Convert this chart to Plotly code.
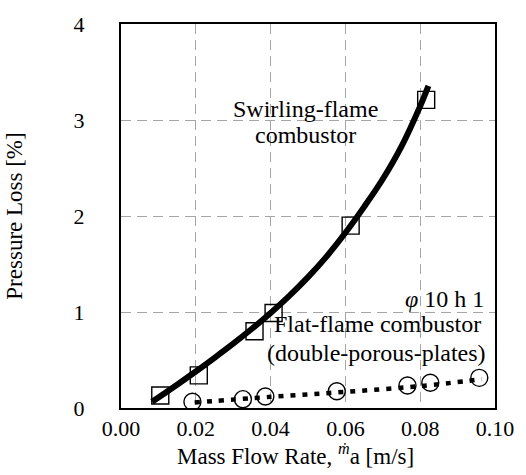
import plotly.graph_objects as go

swirl_x = [0.0105, 0.0208, 0.0357, 0.0408, 0.0614, 0.0816]
swirl_y = [0.13, 0.34, 0.80, 0.99, 1.90, 3.21]

flat_x = [0.0191, 0.0326, 0.0386, 0.0577, 0.0766, 0.0827, 0.0958]
flat_y = [0.065, 0.092, 0.12, 0.174, 0.235, 0.263, 0.314]

# Trend curves
swirl_fit_x = [0.0083, 0.015, 0.020, 0.025, 0.030, 0.035, 0.040, 0.045, 0.050,
               0.055, 0.060, 0.065, 0.070, 0.075, 0.080, 0.0822]
swirl_fit_y = [0.065, 0.243, 0.38, 0.523, 0.67, 0.825, 0.99, 1.168, 1.363,
               1.58, 1.825, 2.095, 2.385, 2.725, 3.145, 3.355]

flat_fit_x = [0.0197, 0.040, 0.060, 0.080, 0.0965]
flat_fit_y = [0.058, 0.116, 0.168, 0.228, 0.300]

x_ticks = [0.00, 0.02, 0.04, 0.06, 0.08, 0.10]
y_ticks = [0, 1, 2, 3, 4]

FONT = "Liberation Serif"

fig = go.Figure()

fig.add_trace(go.Scatter(x=swirl_x, y=swirl_y, mode="markers",
                         marker=dict(symbol="square-open", size=17, color="black",
                                     line=dict(width=1.4, color="black")),
                         showlegend=False, hoverinfo="skip"))
fig.add_trace(go.Scatter(x=flat_x, y=flat_y, mode="markers",
                         marker=dict(symbol="circle-open", size=17, color="black",
                                     line=dict(width=1.4, color="black")),
                         showlegend=False, hoverinfo="skip"))
fig.add_trace(go.Scatter(x=swirl_fit_x, y=swirl_fit_y, mode="lines",
                         line=dict(color="black", width=6, shape="spline", smoothing=1),
                         showlegend=False, hoverinfo="skip"))
fig.add_trace(go.Scatter(x=flat_fit_x, y=flat_fit_y, mode="lines",
                         line=dict(color="black", width=4.5, dash="5px,7px", shape="spline"),
                         showlegend=False, hoverinfo="skip"))

axis_common = dict(
    showline=True, linecolor="black", linewidth=2, mirror=True,
    showgrid=True, gridcolor="#a6a6a6", gridwidth=1, griddash="10px,6px",
    zeroline=False, ticks="",
    tickfont=dict(family=FONT, size=22, color="black"),
)

fig.update_xaxes(range=[0, 0.1], tickvals=x_ticks, tickformat=".2f",
                 ticklabelstandoff=0, **axis_common)
fig.update_yaxes(range=[0, 4], tickvals=y_ticks, tickformat="d",
                 ticklabelstandoff=30,
                 title=dict(text="Pressure Loss [%]", font=dict(family=FONT, size=23, color="black"),
                            standoff=45),
                 **axis_common)

ann_font = dict(family=FONT, size=24, color="black")
fig.add_annotation(x=0.0492, y=3.11, text="Swirling-flame", showarrow=False, font=ann_font)
fig.add_annotation(x=0.0492, y=2.84, text="combustor", showarrow=False, font=ann_font)
fig.add_annotation(x=0.0975, y=1.14, text="<i>φ</i> 10 h 1", showarrow=False,
                   xanchor="right", font=ann_font)
fig.add_annotation(x=0.0686, y=0.88, text="Flat-flame combustor", showarrow=False, font=ann_font)
fig.add_annotation(x=0.0683, y=0.576, text="(double-porous-plates)", showarrow=False, font=ann_font)

# x-axis title
fig.add_annotation(x=(292 - 115) / 380, y=-0.165, xref="paper", yref="paper",
                   text="Mass Flow Rate, <sup><i>ṁ</i></sup>a [m/s]", showarrow=False,
                   yanchor="bottom", font=dict(family=FONT, size=23, color="black"))

fig.update_layout(
    width=526, height=475,
    margin=dict(l=115, r=31, t=17, b=67),
    paper_bgcolor="white", plot_bgcolor="white",
    font=dict(family=FONT, color="black"),
)

fig.write_html("out.html", config={"displayModeBar": False},
               post_script="document.body.style.margin='0';")
